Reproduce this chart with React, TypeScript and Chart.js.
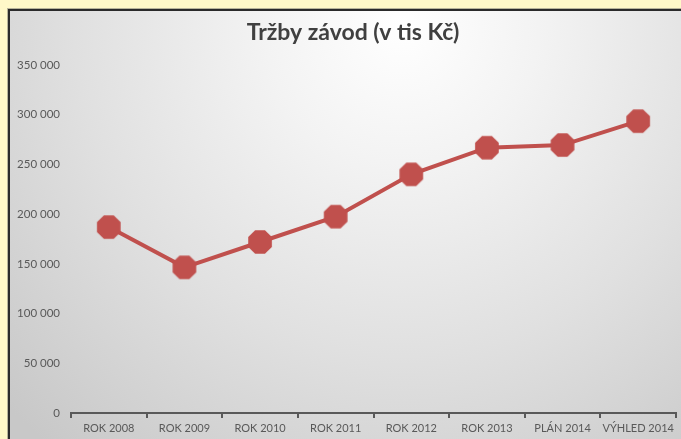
import React, { useEffect, useRef } from "react";
import { Chart, registerables } from "chart.js";

Chart.register(...registerables);

const categories = ["ROK 2008", "ROK 2009", "ROK 2010", "ROK 2011", "ROK 2012", "ROK 2013", "PLÁN 2014", "VÝHLED 2014"];
const sales = [187000, 146500, 172000, 197500, 240000, 266800, 269500, 293500];
const yMin = 0;
const yMax = 350000;
const yStep = 50000;
const titleText = "Tržby závod (v tis Kč)";

const RED = "#C0504D";

function makeOctagon(r: number): HTMLCanvasElement {
  const c = document.createElement("canvas");
  const size = Math.ceil(r * 2) + 2;
  c.width = size;
  c.height = size;
  const ctx = c.getContext("2d")!;
  const cx = size / 2;
  const cy = size / 2;
  ctx.fillStyle = RED;
  ctx.beginPath();
  for (let i = 0; i < 8; i++) {
    const a = Math.PI / 8 + (i * Math.PI) / 4;
    const x = cx + r * Math.cos(a);
    const y = cy + r * Math.sin(a);
    if (i === 0) ctx.moveTo(x, y);
    else ctx.lineTo(x, y);
  }
  ctx.closePath();
  ctx.fill();
  return c;
}

function fmt(v: number): string {
  return String(v).replace(/\B(?=(\d{3})+(?!\d))/g, " ");
}

const titlePlugin = {
  id: "excelTitle",
  afterDraw(chart: any) {
    const ctx = chart.ctx as CanvasRenderingContext2D;
    ctx.save();
    ctx.font = "bold 23px Lato";
    ctx.fillStyle = "#404040";
    ctx.textAlign = "center";
    ctx.textBaseline = "middle";
    ctx.fillText(titleText, 353, 33);
    ctx.restore();
  },
};

export default function App() {
  const ref = useRef<HTMLCanvasElement | null>(null);

  useEffect(() => {
    if (!ref.current) return;
    const octagon = makeOctagon(12.8);
    const chart = new Chart(ref.current, {
      type: "line",
      data: {
        labels: categories,
        datasets: [
          {
            data: sales,
            borderColor: RED,
            backgroundColor: RED,
            borderWidth: 4,
            pointStyle: octagon as any,
            pointRadius: 12,
            pointBackgroundColor: RED,
            pointBorderWidth: 0,
            tension: 0,
            clip: false as any,
          },
        ],
      },
      options: {
        responsive: false,
        animation: false,
        events: [],
        layout: { autoPadding: false, padding: { top: 65, right: 5, bottom: 0, left: 0 } },
        plugins: {
          legend: { display: false },
          tooltip: { enabled: false },
          title: { display: false },
        },
        scales: {
          x: {
            type: "category",
            offset: true,
            afterFit: (s: any) => {
              s.height = 26;
              s.paddingRight = 0;
            },
            grid: {
              display: true,
              offset: true,
              drawOnChartArea: false,
              drawTicks: true,
              tickLength: 5,
              color: "#595959",
              lineWidth: 2,
            },
            border: { display: true, color: "#595959", width: 2 },
            ticks: {
              color: "#595959",
              font: { family: "Lato", size: 11 },
              padding: 4,
              maxRotation: 0,
              autoSkip: false,
            },
          },
          y: {
            min: yMin,
            max: yMax,
            afterFit: (s: any) => {
              s.width = 71;
            },
            grid: { display: false, drawTicks: false },
            border: { display: false },
            ticks: {
              stepSize: yStep,
              color: "#595959",
              font: { family: "Lato", size: 11.5 },
              padding: 11,
              callback: (v: any) => fmt(Number(v)),
            },
          },
        },
      },
      plugins: [titlePlugin],
    });
    return () => chart.destroy();
  }, []);

  return (
    <div
      style={{
        position: "fixed",
        left: 0,
        top: 0,
        width: 681,
        height: 439,
        overflow: "hidden",
        background: "#FFF8C8",
      }}
    >
      <div
        style={{
          position: "absolute",
          left: 8,
          top: 9,
          width: 700,
          height: 460,
          borderTop: "2px solid #2a2a2a",
          borderLeft: "2px solid #2a2a2a",
          boxShadow: "-1px -1px 0 #b8b49a",
          background:
            "radial-gradient(ellipse 78% 120% at 56% 3%, #ffffff 0%, #f3f3f3 25%, #e0e0e0 60%, #c8c8c8 100%)",
        }}
      />
      <canvas
        ref={ref}
        width={681}
        height={439}
        style={{ position: "absolute", left: 0, top: 0, width: 681, height: 439 }}
      />
    </div>
  );
}
